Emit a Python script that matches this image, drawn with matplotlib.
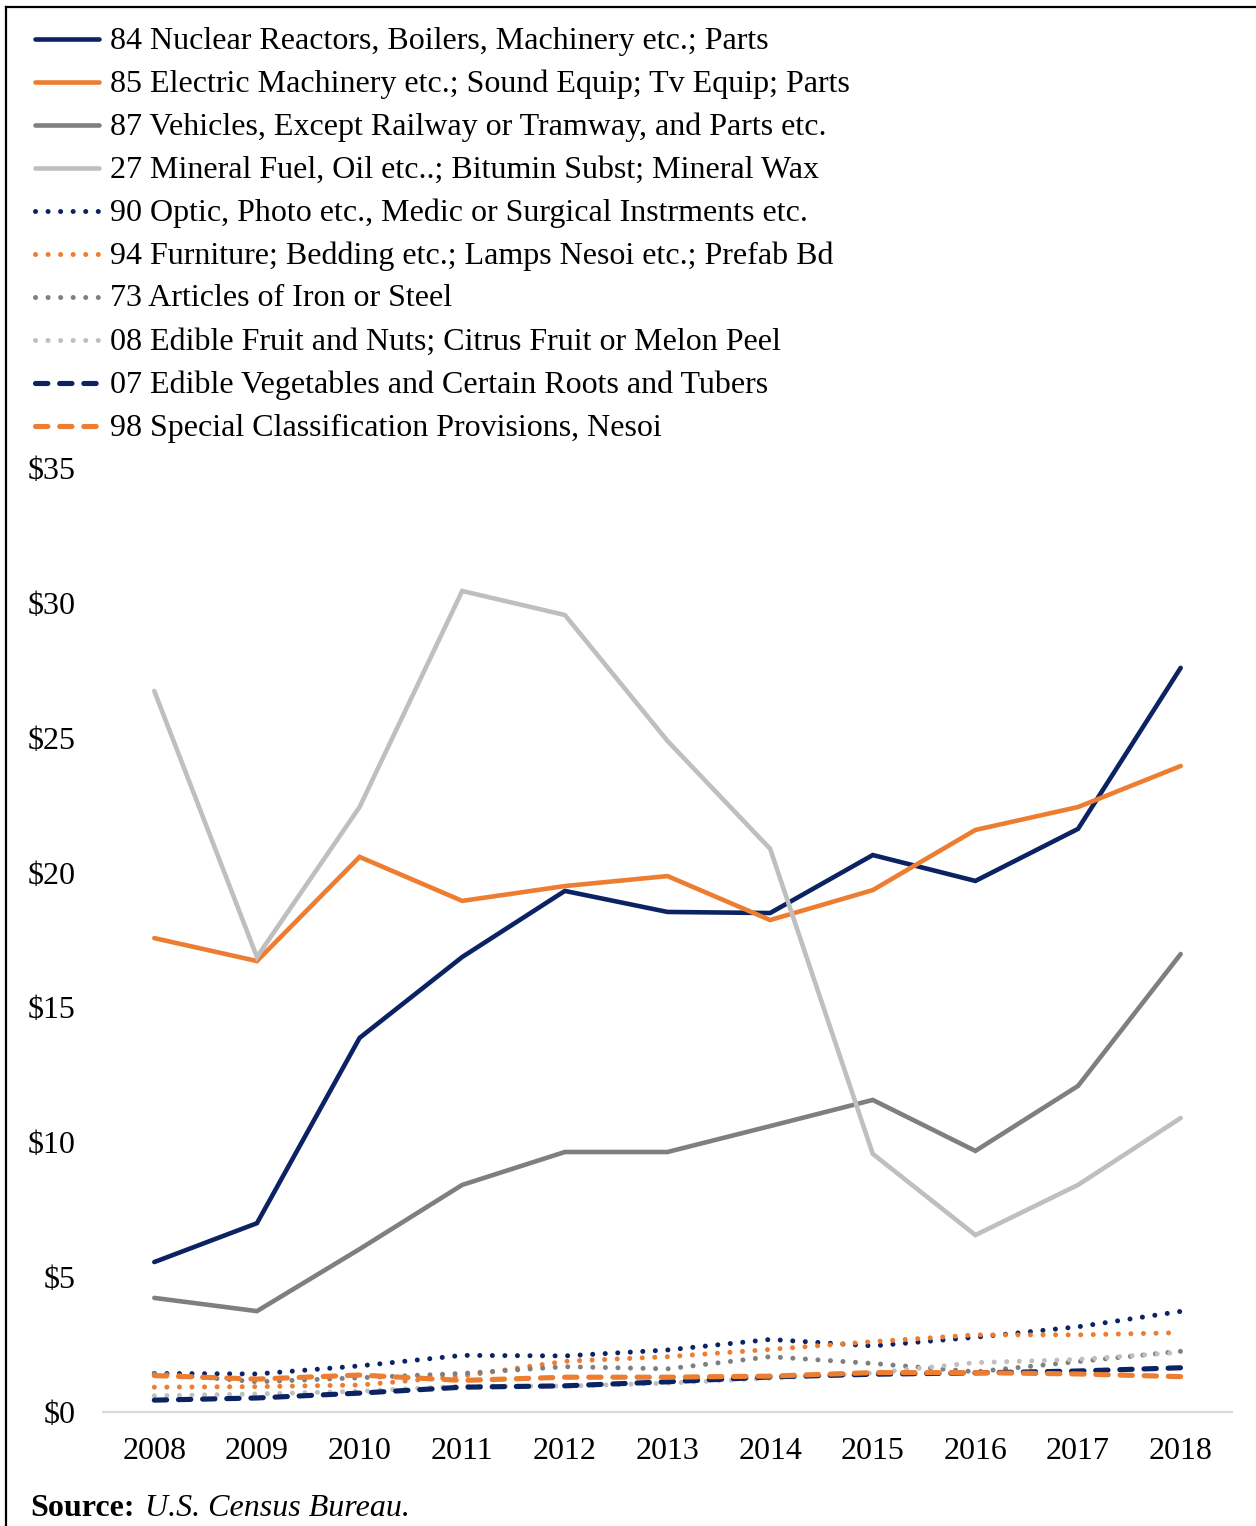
import matplotlib.pyplot as plt
from matplotlib.lines import Line2D

plt.rcParams['font.family'] = ['Liberation Serif', 'DejaVu Serif']

years = list(range(2008, 2019))

series_names = [
    "84 Nuclear Reactors, Boilers, Machinery etc.; Parts",
    "85 Electric Machinery etc.; Sound Equip; Tv Equip; Parts",
    "87 Vehicles, Except Railway or Tramway, and Parts etc.",
    "27 Mineral Fuel, Oil etc..; Bitumin Subst; Mineral Wax",
    "90 Optic, Photo etc., Medic or Surgical Instrments etc.",
    "94 Furniture; Bedding etc.; Lamps Nesoi etc.; Prefab Bd",
    "73 Articles of Iron or Steel",
    "08 Edible Fruit and Nuts; Citrus Fruit or Melon Peel",
    "07 Edible Vegetables and Certain Roots and Tubers",
    "98 Special Classification Provisions, Nesoi",
]

# values in billions of dollars
machinery = [5.56, 7.0, 13.87, 16.87, 19.32, 18.54, 18.5, 20.65, 19.69, 21.62, 27.59]
electric = [17.57, 16.72, 20.58, 18.95, 19.5, 19.87, 18.24, 19.35, 21.58, 22.43, 23.95]
vehicles = [4.23, 3.74, 6.04, 8.42, 9.64, 9.64, 10.6, 11.57, 9.68, 12.09, 16.98]
mineral_fuel = [26.73, 16.87, 22.43, 30.44, 29.55, 24.88, 20.88, 9.57, 6.56, 8.42, 10.9]
optic = [1.43, 1.41, 1.71, 2.1, 2.08, 2.3, 2.69, 2.45, 2.77, 3.16, 3.73]
furniture = [0.92, 0.94, 1.0, 1.33, 1.88, 2.05, 2.32, 2.61, 2.86, 2.86, 2.94]
iron_steel = [1.43, 1.12, 1.27, 1.43, 1.68, 1.6, 2.05, 1.8, 1.49, 1.87, 2.25]
fruit_nuts = [0.6, 0.67, 0.77, 0.96, 0.96, 1.07, 1.25, 1.45, 1.83, 1.95, 2.21]
vegetables = [0.44, 0.52, 0.7, 0.92, 0.97, 1.12, 1.3, 1.4, 1.45, 1.52, 1.64]
special = [1.35, 1.22, 1.37, 1.17, 1.29, 1.29, 1.33, 1.46, 1.46, 1.41, 1.31]

series_values = [machinery, electric, vehicles, mineral_fuel, optic,
                 furniture, iron_steel, fruit_nuts, vegetables, special]

NAVY = "#0b2263"
ORANGE = "#ed7d31"
GRAY = "#7f7f7f"
LIGHT = "#bfbfbf"
colors = [NAVY, ORANGE, GRAY, LIGHT, NAVY, ORANGE, GRAY, LIGHT, NAVY, ORANGE]
kinds = ["solid"] * 4 + ["dot"] * 4 + ["dash"] * 2

W, H = 1256, 1526
FS = 23
fig = plt.figure(figsize=(W / 100, H / 100), dpi=100)


def fx(px):
    return px / W


def fy(py):
    return 1 - py / H


def style(kind):
    if kind == "solid":
        return dict(linewidth=3.3, solid_capstyle="round", solid_joinstyle="miter")
    if kind == "dot":
        return dict(linewidth=3.6, dashes=(0.01, 2.5), dash_capstyle="round")
    return dict(linewidth=3.7, dashes=(2.4, 2.3), dash_capstyle="round")


ax = fig.add_axes([fx(103), fy(1412), fx(1232) - fx(103), fy(468) - fy(1412)])
for vals, color, kind in zip(series_values, colors, kinds):
    ax.plot(years, vals, color=color, **style(kind))

ax.set_xlim(2007.5, 2018.5)
ax.set_ylim(0, 35)
ax.set_xticks(years)
ax.set_xticklabels([str(y) for y in years])
ax.set_yticks(range(0, 36, 5))
ax.set_yticklabels([f"${v}" for v in range(0, 36, 5)])
for side in ["top", "right", "left"]:
    ax.spines[side].set_visible(False)
ax.spines["bottom"].set_color("#d9d9d9")
ax.spines["bottom"].set_linewidth(1.6)
ax.tick_params(axis="both", length=0, labelsize=FS, colors="black")
ax.tick_params(axis="y", pad=20)
ax.tick_params(axis="x", pad=18)

# legend rows drawn in figure space
for i, (name, color, kind) in enumerate(zip(series_names, colors, kinds)):
    yrow = 39 + 43 * i
    fig.add_artist(Line2D([fx(35), fx(99)], [fy(yrow), fy(yrow)], color=color,
                          transform=fig.transFigure, **style(kind)))
    fig.text(fx(110), fy(yrow + 2), name, fontsize=FS, va="center", ha="left")

# frame around the panel
fig.add_artist(Line2D([fx(6), fx(6)], [fy(7), 0], color="black", linewidth=1.6,
                      transform=fig.transFigure))
fig.add_artist(Line2D([fx(6), 1], [fy(7), fy(7)], color="black", linewidth=1.6,
                      transform=fig.transFigure))

fig.text(fx(30), fy(1509), "Source:", fontsize=FS, fontweight="bold", va="center")
fig.text(fx(145), fy(1509), "U.S. Census Bureau.", fontsize=FS, style="italic", va="center")

fig.savefig("out.png", dpi=100)
